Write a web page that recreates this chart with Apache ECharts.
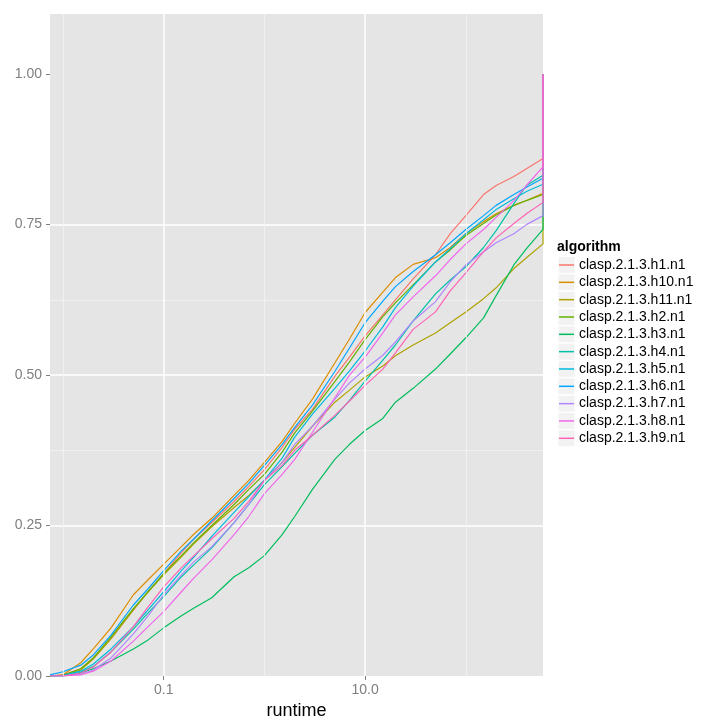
<!DOCTYPE html>
<html><head><meta charset="utf-8">
<script src="https://cdn.jsdelivr.net/npm/echarts@6/dist/echarts.min.js"></script>
<style>html,body{margin:0;padding:0;background:#fff}#chart{width:720px;height:720px}</style>
</head><body><div id="chart"></div>
<script>
// ---- data ----
const runtimes = [0.00743, 0.01, 0.015, 0.02, 0.03, 0.05, 0.07, 0.1, 0.15, 0.2, 0.3, 0.5, 0.7, 1, 1.5, 2, 3, 5, 7, 10, 15, 20, 30, 50, 70, 100, 150, 200, 300, 400, 584];
const algorithms = ['clasp.2.1.3.h1.n1','clasp.2.1.3.h10.n1','clasp.2.1.3.h11.n1','clasp.2.1.3.h2.n1','clasp.2.1.3.h3.n1','clasp.2.1.3.h4.n1','clasp.2.1.3.h5.n1','clasp.2.1.3.h6.n1','clasp.2.1.3.h7.n1','clasp.2.1.3.h8.n1','clasp.2.1.3.h9.n1'];
const h1  = [0, 0.002, 0.012, 0.03, 0.062, 0.11, 0.14, 0.17, 0.205, 0.228, 0.255, 0.29, 0.315, 0.343, 0.38, 0.41, 0.443, 0.498, 0.53, 0.565, 0.6, 0.625, 0.66, 0.70, 0.735, 0.765, 0.80, 0.815, 0.83, 0.843, 0.86];
const h10 = [0, 0.002, 0.022, 0.045, 0.08, 0.135, 0.16, 0.186, 0.215, 0.236, 0.262, 0.30, 0.325, 0.355, 0.39, 0.42, 0.46, 0.52, 0.56, 0.604, 0.638, 0.662, 0.684, 0.695, 0.712, 0.735, 0.755, 0.768, 0.782, 0.79, 0.802];
const h11 = [0, 0.001, 0.01, 0.028, 0.062, 0.11, 0.14, 0.168, 0.198, 0.22, 0.248, 0.28, 0.3, 0.325, 0.355, 0.38, 0.415, 0.455, 0.475, 0.497, 0.515, 0.532, 0.55, 0.57, 0.587, 0.605, 0.627, 0.645, 0.677, 0.695, 0.718];
const h2  = [0, 0.001, 0.012, 0.03, 0.065, 0.112, 0.14, 0.17, 0.2, 0.222, 0.25, 0.285, 0.31, 0.335, 0.372, 0.404, 0.44, 0.489, 0.522, 0.559, 0.597, 0.62, 0.65, 0.688, 0.708, 0.732, 0.752, 0.766, 0.782, 0.79, 0.80];
const h3  = [0, 0, 0.005, 0.012, 0.025, 0.045, 0.06, 0.08, 0.1, 0.113, 0.13, 0.165, 0.18, 0.2, 0.235, 0.265, 0.31, 0.36, 0.385, 0.408, 0.428, 0.455, 0.478, 0.51, 0.535, 0.562, 0.595, 0.632, 0.683, 0.71, 0.742];
const h4  = [0, 0, 0.006, 0.016, 0.04, 0.078, 0.105, 0.132, 0.165, 0.185, 0.213, 0.255, 0.285, 0.318, 0.348, 0.37, 0.4, 0.43, 0.458, 0.49, 0.525, 0.55, 0.59, 0.635, 0.658, 0.68, 0.712, 0.74, 0.785, 0.815, 0.832];
const h5  = [0, 0.001, 0.008, 0.02, 0.045, 0.082, 0.11, 0.14, 0.175, 0.198, 0.232, 0.272, 0.298, 0.326, 0.362, 0.397, 0.435, 0.478, 0.507, 0.54, 0.58, 0.612, 0.648, 0.688, 0.71, 0.735, 0.758, 0.775, 0.793, 0.805, 0.817];
const h6  = [0.002, 0.007, 0.018, 0.035, 0.068, 0.118, 0.145, 0.175, 0.208, 0.228, 0.258, 0.295, 0.32, 0.35, 0.385, 0.413, 0.45, 0.506, 0.545, 0.587, 0.623, 0.647, 0.672, 0.70, 0.72, 0.742, 0.765, 0.782, 0.80, 0.812, 0.827];
const h7  = [0, 0, 0.003, 0.01, 0.03, 0.07, 0.1, 0.135, 0.168, 0.19, 0.215, 0.255, 0.285, 0.325, 0.355, 0.385, 0.415, 0.46, 0.487, 0.51, 0.533, 0.555, 0.59, 0.622, 0.655, 0.683, 0.705, 0.72, 0.735, 0.75, 0.765];
const h8  = [0, 0, 0.002, 0.008, 0.025, 0.058, 0.082, 0.107, 0.14, 0.163, 0.193, 0.235, 0.265, 0.303, 0.335, 0.36, 0.405, 0.462, 0.5, 0.53, 0.57, 0.6, 0.63, 0.665, 0.692, 0.718, 0.742, 0.762, 0.79, 0.815, 0.846];
const h9  = [0, 0, 0.005, 0.015, 0.04, 0.082, 0.115, 0.148, 0.18, 0.2, 0.228, 0.262, 0.29, 0.325, 0.35, 0.375, 0.4, 0.433, 0.457, 0.483, 0.51, 0.537, 0.576, 0.605, 0.64, 0.67, 0.705, 0.728, 0.752, 0.768, 0.787];
const seriesValues = [h1, h10, h11, h2, h3, h4, h5, h6, h7, h8, h9];
const xMajorTicks = [0.1, 10];
const xMinorTicks = [0.01, 1, 100];
const yMajorTicks = [0, 0.25, 0.5, 0.75, 1];
const yMinorTicks = [0.125, 0.375, 0.625, 0.875];
const X_MIN = 0.00743, X_MAX = 584, Y_MIN = 0, Y_MAX = 1.1;

// ---- styling ----
const colors = ['#F8766D','#DB8E00','#AEA200','#64B200','#00BD5C','#00C1A7','#00BADE','#00A6FF','#B385FF','#EF67EB','#FF63B6'];
const FONT = '"Liberation Sans", Arial, Helvetica, sans-serif';
const GRID = {left: 50, top: 14, right: 177, bottom: 44};
const LEG = {left: 558, top: 256.5, item: 17, step: 17.33};
const MAJOR = {color: '#FFFFFF', width: 1.5, type: 'solid'};
const MINOR = {color: '#F2F2F2', width: 0.8, type: 'solid'};

const chart = echarts.init(document.getElementById('chart'));

const series = algorithms.map((name, k) => ({
  name: name,
  type: 'line',
  xAxisIndex: 0, yAxisIndex: 0,
  z: 3,
  symbol: 'none',
  showSymbol: false,
  animation: false,
  lineStyle: {width: 1.2, color: colors[k]},
  itemStyle: {color: colors[k]},
  data: runtimes.map((x, i) => [x, seriesValues[k][i]]).concat([[X_MAX, 1]])
}));

function gridLines(values, style) {
  return {
    type: 'line', data: [], xAxisIndex: 0, yAxisIndex: 0, z: 1, silent: true, animation: false,
    markLine: {silent: true, symbol: 'none', animation: false, label: {show: false},
               lineStyle: style, emphasis: {disabled: true},
               data: values.map(v => ({xAxis: v}))}
  };
}

const keyRects = algorithms.map((n, i) => ({
  type: 'rect', z: 0,
  shape: {x: LEG.left, y: LEG.top + i * LEG.step, width: LEG.item, height: LEG.item},
  style: {fill: '#F2F2F2', stroke: '#ffffff', lineWidth: 1}
}));

const option = {
  animation: false,
  backgroundColor: '#ffffff',
  textStyle: {fontFamily: FONT},
  color: colors,
  grid: {left: GRID.left, top: GRID.top, right: GRID.right, bottom: GRID.bottom,
         outerBoundsMode: 'none', containLabel: false,
         show: true, backgroundColor: '#E5E5E5', borderWidth: 0},
  title: {text: 'algorithm', left: 557, top: 240, padding: 0,
          textStyle: {fontFamily: FONT, fontSize: 14, fontWeight: 'bold', color: '#000'}},
  legend: {
    orient: 'vertical', left: LEG.left + 1, top: LEG.top, padding: 0,
    itemWidth: 15, itemHeight: LEG.item, itemGap: LEG.step - LEG.item,
    icon: 'path://M0,0 L15,0 L15,1.5 L0,1.5 Z',
    symbolKeepAspect: true,
    data: algorithms,
    textStyle: {fontFamily: FONT, fontSize: 14, color: '#000', lineHeight: LEG.item},
    selectedMode: false
  },
  graphic: keyRects,
  xAxis: [
    {
      type: 'log', logBase: 10, min: X_MIN, max: X_MAX,
      name: 'runtime', nameLocation: 'middle', nameGap: 17,
      nameTextStyle: {fontFamily: FONT, fontSize: 18, color: '#000'},
      axisLine: {show: false},
      axisTick: {show: true, length: 4, customValues: xMajorTicks, lineStyle: {color: '#7F7F7F', width: 1}},
      axisLabel: {show: true, customValues: xMajorTicks, margin: 7, fontFamily: FONT, fontSize: 14, color: '#7F7F7F',
                  formatter: v => Number(v).toFixed(1)},
      splitLine: {show: false}
    }
  ],
  yAxis: [
    {
      type: 'value', min: Y_MIN, max: Y_MAX,
      axisLine: {show: false},
      axisTick: {show: true, length: 4, customValues: yMajorTicks, lineStyle: {color: '#7F7F7F', width: 1}},
      axisLabel: {show: true, customValues: yMajorTicks, margin: 8, fontFamily: FONT, fontSize: 14, color: '#7F7F7F',
                  formatter: v => Number(v).toFixed(2)},
      splitLine: {show: true, showMinLine: false, showMaxLine: false, lineStyle: MAJOR}
    },
    {
      type: 'value', min: Y_MIN, max: Y_MAX, position: 'left',
      axisLine: {show: false},
      axisTick: {show: false, customValues: yMinorTicks},
      axisLabel: {show: false, customValues: yMinorTicks},
      splitLine: {show: true, showMinLine: false, showMaxLine: false, lineStyle: MINOR}
    }
  ],
  series: [gridLines(xMinorTicks, MINOR), gridLines(xMajorTicks, MAJOR)].concat(series)
};
chart.setOption(option);
</script>
</body></html>
